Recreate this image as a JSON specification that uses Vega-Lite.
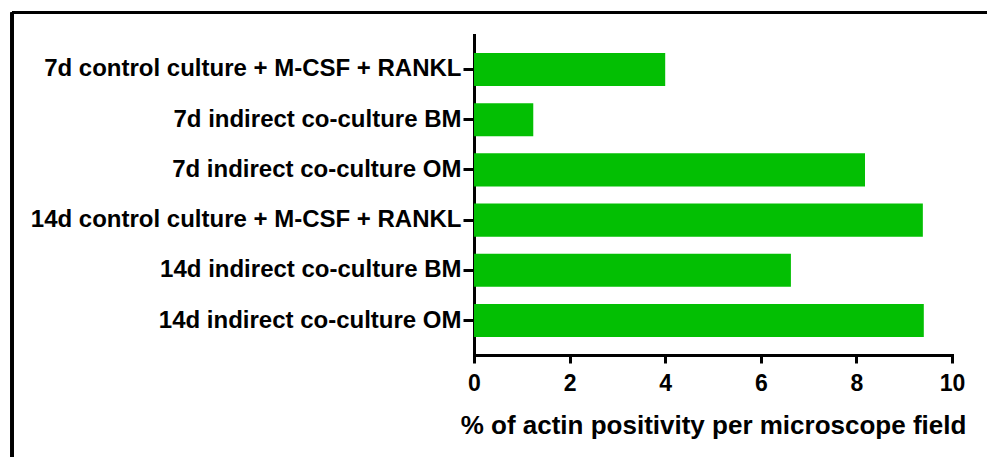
{
  "$schema": "https://vega.github.io/schema/vega-lite/v6.json",
  "autosize": {"type": "none"},
  "width": 478,
  "height": 320,
  "padding": {"left": 474, "top": 35, "right": 35, "bottom": 102},
  "background": "white",
  "config": {"view": {"stroke": null}, "font": "Liberation Sans"},
  "data": {"values": [
    {"group": "7d control culture + M-CSF + RANKL", "value": 4.0},
    {"group": "7d indirect co-culture BM", "value": 1.24},
    {"group": "7d indirect co-culture OM", "value": 8.18},
    {"group": "14d control culture + M-CSF + RANKL", "value": 9.39},
    {"group": "14d indirect co-culture BM", "value": 6.63},
    {"group": "14d indirect co-culture OM", "value": 9.41}
  ]},
  "layer": [
    {
      "mark": {"type": "bar", "color": "#03bf03"},
      "encoding": {
        "y": {
          "field": "group", "type": "nominal", "sort": null,
          "scale": {"paddingInner": 0.343, "paddingOuter": 0.356},
          "axis": {
            "title": null,
            "domainColor": "black", "domainWidth": 3, "domainCap": "square",
            "tickColor": "black", "tickWidth": 3, "tickSize": 11,
            "labelFont": "Liberation Sans", "labelFontWeight": "bold", "labelFontSize": 24,
            "labelColor": "black", "labelPadding": 2, "labelLimit": 600
          }
        },
        "x": {
          "field": "value", "type": "quantitative",
          "scale": {"domain": [0, 10], "nice": false},
          "axis": {
            "title": "% of actin positivity per microscope field",
            "values": [0, 2, 4, 6, 8, 10],
            "grid": false,
            "labelFlush": false,
            "domainColor": "black", "domainWidth": 3, "domainCap": "square",
            "tickColor": "black", "tickWidth": 3, "tickSize": 8,
            "labelFont": "Liberation Sans", "labelFontWeight": "bold", "labelFontSize": 23,
            "labelColor": "black", "labelPadding": 9,
            "titleFont": "Liberation Sans", "titleFontWeight": "bold", "titleFontSize": 26,
            "titleColor": "black", "titlePadding": 17
          }
        }
      }
    },
    {
      "mark": {"type": "rule", "color": "black", "strokeWidth": 3},
      "encoding": {
        "x": {"datum": -9.665, "type": "quantitative", "scale": {"domain": [0, 10], "nice": false}},
        "x2": {"datum": 11.5},
        "y": {"datum": 1.0703, "type": "quantitative", "scale": {"domain": [0, 1], "nice": false, "zero": false}, "axis": null}
      }
    },
    {
      "mark": {"type": "rule", "color": "black", "strokeWidth": 3},
      "encoding": {
        "x": {"datum": -9.665, "type": "quantitative", "scale": {"domain": [0, 10], "nice": false}},
        "y": {"datum": 1.0703, "type": "quantitative", "scale": {"domain": [0, 1], "nice": false, "zero": false}, "axis": null},
        "y2": {"datum": -0.5}
      }
    }
  ],
  "resolve": {"scale": {"y": "independent"}, "axis": {"y": "independent"}}
}
